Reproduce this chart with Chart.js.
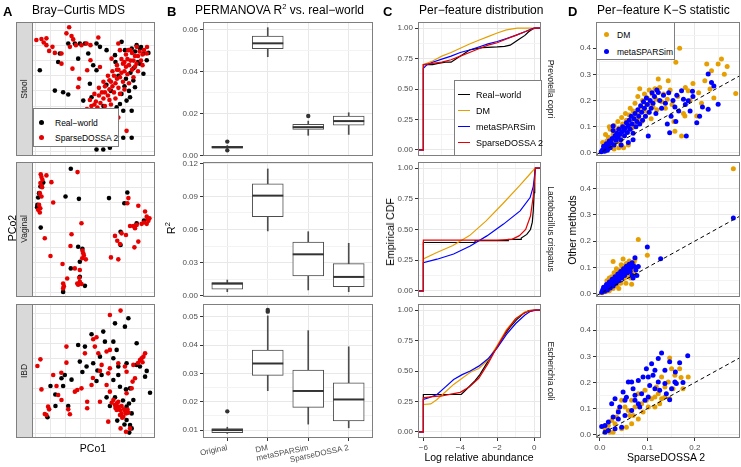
<!DOCTYPE html>
<html>
<head>
<meta charset="utf-8">
<script src="https://cdn.jsdelivr.net/npm/chart.js@4.4.0/dist/chart.umd.min.js"></script>
<style>
body { margin: 0; width: 741px; height: 467px; background: #fff; position: relative; overflow: hidden;
  font-family: "Liberation Sans", Arial, Helvetica, sans-serif; color: #000; }
#plots canvas { position: absolute; }
.t { position: absolute; white-space: nowrap; z-index: 5; }
.tag { font-weight: bold; font-size: 13px; line-height: 15px; }
.title { font-size: 12px; line-height: 15px; }
.axt { font-size: 10.5px; line-height: 12px; transform: translate(-50%, -50%); }
.rot { transform: translate(-50%, -50%) rotate(-90deg); }
.rot90 { transform: translate(-50%, -50%) rotate(90deg); }
.strip { position: absolute; background: #d9d9d9; border: 1px solid #7f7f7f; box-sizing: border-box; z-index: 4; }
.stxt { font-size: 8.5px; color: #1a1a1a; line-height: 10px; }
.legend { position: absolute; background: #fff; border: 1px solid #7f7f7f; box-sizing: border-box; z-index: 6; }
.key { position: absolute; white-space: nowrap; font-size: 8.5px; line-height: 10px; }
.dot { position: absolute; width: 5px; height: 5px; border-radius: 50%; }
.seg { position: absolute; height: 1.3px; width: 12px; }
sup { font-size: 7.5px; line-height: 0; vertical-align: 5px; }
</style>
</head>
<body>
<div id="plots"></div>

<div class="t tag" style="left:3px;top:4px">A</div>
<div class="t title" style="left:32px;top:3px">Bray−Curtis MDS</div>
<div class="t tag" style="left:167px;top:4px">B</div>
<div class="t title" style="left:195px;top:3px">PERMANOVA R<sup>2</sup> vs. real−world</div>
<div class="t tag" style="left:383px;top:4px">C</div>
<div class="t title" style="left:419px;top:3px">Per−feature distribution</div>
<div class="t tag" style="left:568px;top:4px">D</div>
<div class="t title" style="left:597px;top:3px">Per−feature K−S statistic</div>

<div class="t axt rot" style="left:12px;top:228px">PCo2</div>
<div class="t axt" style="left:93px;top:448px">PCo1</div>
<div class="t axt rot" style="left:171px;top:228px">R<sup>2</sup></div>
<div class="t axt rot" style="left:390px;top:232px">Empirical CDF</div>
<div class="t axt" style="left:479px;top:457px">Log relative abundance</div>
<div class="t axt rot" style="left:572px;top:230px">Other methods</div>
<div class="t axt" style="left:666px;top:457px">SparseDOSSA 2</div>

<div class="strip" style="left:16px;top:22px;width:17px;height:134px"></div>
<div class="strip" style="left:16px;top:162px;width:17px;height:135px"></div>
<div class="strip" style="left:16px;top:304px;width:17px;height:134px"></div>
<div class="t stxt rot" style="left:24px;top:89px">Stool</div>
<div class="t stxt rot" style="left:24px;top:229px">Vaginal</div>
<div class="t stxt rot" style="left:24px;top:371px">IBD</div>

<div class="t stxt rot90" style="left:551px;top:89px">Prevotella copri</div>
<div class="t stxt rot90" style="left:551px;top:229px">Lactobacillus crispatus</div>
<div class="t stxt rot90" style="left:551px;top:371px">Escherichia coli</div>

<div class="legend" style="left:33px;top:108px;width:86px;height:39px">
  <div class="dot" style="left:5px;top:11px;background:#000"></div>
  <div class="key" style="left:21px;top:9px">Real−world</div>
  <div class="dot" style="left:5px;top:26px;background:#e60000"></div>
  <div class="key" style="left:21px;top:24px">SparseDOSSA 2</div>
</div>

<div class="legend" style="left:454px;top:80px;width:88px;height:76px">
  <div class="seg" style="left:3px;top:13px;background:#000"></div>
  <div class="key" style="left:21px;top:9px;font-size:9px">Real−world</div>
  <div class="seg" style="left:3px;top:29px;background:#e69f00"></div>
  <div class="key" style="left:21px;top:25px;font-size:9px">DM</div>
  <div class="seg" style="left:3px;top:45px;background:#0000ff"></div>
  <div class="key" style="left:21px;top:41px;font-size:9px">metaSPARSim</div>
  <div class="seg" style="left:3px;top:61px;background:#e60000"></div>
  <div class="key" style="left:21px;top:57px;font-size:9px">SparseDOSSA 2</div>
</div>

<div class="legend" style="left:596px;top:22px;width:79px;height:38px">
  <div class="dot" style="left:7px;top:9px;background:#e69f00"></div>
  <div class="key" style="left:20px;top:7px">DM</div>
  <div class="dot" style="left:7px;top:26px;background:#0000ff"></div>
  <div class="key" style="left:20px;top:24px">metaSPARSim</div>
</div>

<script>
// ---- A: Bray-Curtis MDS coordinates (PCo1, PCo2) ----
var stoolReal = [[0.27,5.36],[1.27,4.02],[1.82,3.91],[2.16,3.76],[2.6,7.13],[2.93,7.13],[3.27,7.13],[2.16,7.13],[1.6,6.47],[1.49,5.91],[2.82,6.13],[3.49,6.47],[3.82,5.69],[4.04,5.36],[4.04,7.13],[4.27,6.91],[4.71,6.69],[5.27,6.36],[5.71,7.24],[5.93,6.69],[6.38,6.8],[6.71,7.02],[6.93,6.8],[7.16,6.47],[7.49,6.51],[7.38,6.02],[6.93,5.8],[7.16,5.13],[6.49,4.69],[6.6,4.24],[6.27,3.58],[6.04,3.36],[5.6,3.13],[5.38,2.91],[5.82,2.69],[6.38,2.69],[4.93,2.69],[5.16,2.02],[4.6,1.58],[5.27,1.36],[5.38,0.91],[5.82,0.91],[6.38,0.91],[4.93,0.69],[4.27,0.69],[4.04,0.13],[4.93,0.24],[4.49,0.13],[3.6,4.47],[3.16,3.36],[3.71,3.58],[3.38,2.69],[5.0,4.0],[5.5,5.0],[6.0,4.8],[6.3,5.2],[4.5,3.0],[6.5,5.5],[6.8,5.9],[4.7,4.4],[5.9,4.3],[6.2,4.0],[4.2,2.0],[5.7,3.8],[7.0,6.9],[6.6,6.6],[5.3,5.9]]
var stoolSim = [[0.04,7.36],[0.38,7.42],[0.53,7.2],[0.71,7.02],[0.89,6.64],[1.11,6.91],[1.27,6.51],[0.71,7.47],[2.22,8.2],[2.04,7.8],[2.38,7.62],[2.49,7.4],[2.27,6.91],[2.67,7.02],[3.04,7.02],[3.38,7.13],[3.64,7.02],[4.16,7.53],[1.71,6.47],[3.64,6.02],[4.27,5.58],[3.42,5.36],[2.44,5.47],[1.71,5.8],[2.89,4.8],[2.82,4.24],[5.49,7.13],[5.04,6.13],[5.6,6.69],[6.16,6.69],[6.71,6.91],[7.38,6.47],
  [3.6,2.4],[3.9,2.6],[3.7,3.0],[4.1,2.9],[4.0,3.3],[4.3,3.2],[4.5,3.5],[4.2,3.7],[4.6,3.9],[4.8,3.7],[4.9,4.1],[4.6,4.3],[5.1,4.3],[5.0,4.6],[5.3,4.5],[5.4,4.8],[5.2,5.0],[5.6,4.9],[5.7,5.2],[5.5,5.4],[5.9,5.3],[6.0,5.6],[5.8,5.8],[6.2,5.7],[6.3,6.0],[6.1,6.1],[6.5,6.0],[6.6,6.3],[6.4,6.5],[6.8,6.3],[6.9,6.6],[7.1,6.4],[7.0,6.0],[6.7,5.8],[6.4,5.4],[6.1,5.1],[5.8,4.6],[5.5,4.2],[5.2,3.9],[4.9,3.4],[4.6,3.0],[4.3,2.6],[4.0,2.2],[3.8,1.9],[3.5,2.0],[3.3,2.3],[3.4,2.8],[3.6,3.4],[3.9,3.8],[4.2,4.2],[4.5,4.6],[4.8,5.0],[5.1,5.3],[5.4,5.7],[5.7,6.1],[6.0,6.4],[6.3,6.7],[4.4,1.8],[4.1,1.5],[3.0,1.0],[5.16,1.24],[5.49,2.24],[4.71,1.13],[6.04,1.36],[4.27,1.91],
  [4.4,2.3],[4.7,2.7],[5.0,3.1],[5.3,3.5],[5.6,3.8],[5.9,4.1],[6.2,4.5],[6.5,4.9],[6.8,5.3],[7.1,5.7],[3.9,3.1],[4.4,3.9],[4.9,4.7],[5.4,5.4],[5.9,5.9],[6.6,5.6],[7.2,6.7],[7.4,6.9]]
var vagReal = [[2.33,8.22],[0.31,7.04],[0.22,6.6],[0.16,6.31],[0.11,5.82],[0.09,5.67],[0.33,4.31],[1.98,6.38],[2.87,6.22],[4.87,6.27],[6.09,6.64],[5.89,5.93],[6.71,4.6],[7.2,4.78],[5.64,4.04],[5.64,3.16],[2.82,3.04],[2.93,2.04],[2.33,1.6],[2.93,1.04],[3.27,0.44],[1.82,0.04],[0.5,7.3],[3.1,2.9]]
var vagSim = [[0.38,7.67],[0.44,7.49],[0.31,7.27],[0.38,7.09],[0.71,7.78],[1.04,7.33],[0.27,6.6],[0.38,6.38],[1.16,5.98],[0.22,5.82],[0.16,5.49],[0.27,5.31],[2.78,8.0],[0.6,3.6],[0.98,2.42],[1.78,1.89],[2.09,0.93],[1.82,0.6],[1.87,0.42],[1.82,0.27],[2.31,3.09],[2.38,3.87],[3.04,4.6],[3.11,2.78],[3.16,2.6],[3.33,2.2],[2.6,1.6],[2.76,0.6],[2.93,0.71],[3.04,0.56],[2.89,0.98],[2.82,0.51],[6.16,6.27],[6.09,5.93],[6.82,5.76],[7.27,5.38],[7.38,5.04],[7.56,4.93],[7.49,4.76],[7.38,4.56],[7.04,4.56],[6.71,4.49],[6.49,4.42],[6.27,4.42],[6.6,4.27],[6.0,3.82],[5.27,3.76],[5.42,3.44],[5.6,3.22],[5.71,3.93],[6.82,3.38],[6.56,3.0],[5.0,2.33],[5.49,2.2],[3.09,2.27],[2.93,1.49],[0.33,7.85],[0.42,7.0],[7.45,4.85],[7.2,4.65],[0.3,5.6],[3.2,2.45]]
var ibdReal = [[5.27,7.34],[6.16,7.68],[5.93,7.12],[4.49,6.79],[3.71,6.61],[5.16,6.12],[4.6,6.12],[2.82,5.9],[3.27,5.79],[6.71,6.01],[5.38,5.57],[2.93,4.79],[3.38,4.46],[3.82,4.68],[4.27,5.12],[5.16,5.01],[5.49,4.46],[6.04,4.68],[6.71,4.57],[7.38,4.17],[7.27,3.79],[6.93,4.46],[1.93,3.9],[2.38,3.59],[1.71,3.68],[0.98,3.17],[1.82,3.17],[4.04,3.5],[5.16,3.57],[5.49,3.9],[5.6,3.12],[6.0,2.94],[6.27,3.01],[7.6,2.72],[1.31,1.83],[2.16,1.83],[4.38,3.9],[4.71,2.41],[5.27,2.41],[4.93,1.83],[6.04,1.79],[6.38,1.34],[6.04,0.9],[5.42,0.86],[6.27,0.57],[6.38,0.34],[6.22,0.06],[0.78,1.08],[6.49,2.23],[5.8,2.2],[6.2,2.0],[5.9,0.6],[4.1,4.2],[3.1,4.1],[1.3,2.6]]
var ibdSim = [[4.93,7.9],[5.64,8.19],[2.04,5.79],[0.31,4.94],[0.11,4.5],[2.04,4.72],[1.16,3.9],[0.38,2.94],[1.38,3.17],[1.49,2.57],[1.71,2.23],[0.82,1.79],[0.89,1.61],[0.71,1.23],[0.6,1.3],[2.16,1.61],[2.27,1.28],[3.42,2.12],[3.42,1.68],[2.76,2.9],[3.04,3.01],[2.6,2.79],[3.71,3.23],[3.27,5.34],[3.82,6.28],[4.04,6.41],[3.93,5.79],[4.16,5.34],[4.27,4.17],[4.82,4.01],[4.93,4.34],[4.38,4.57],[4.71,5.46],[4.93,5.57],[5.49,4.68],[5.93,4.46],[6.04,4.12],[6.49,4.57],[6.93,4.9],[7.04,5.01],[7.27,5.34],[7.16,5.12],[6.44,3.46],[6.6,3.68],[6.38,3.01],[6.04,2.68],[4.71,3.23],[4.93,2.79],[5.16,2.23],[5.38,2.01],[5.49,1.79],[5.6,1.57],[5.71,1.34],[5.82,1.12],[5.27,1.9],[5.49,2.12],[5.71,1.83],[5.87,1.61],[6.0,1.34],[6.16,1.39],[5.6,1.23],[5.38,1.57],[4.82,0.79],[5.64,0.34],[6.0,0.12],[6.27,0.34],[4.27,2.12],[5.05,2.05],[5.95,1.5],[5.3,1.7],[5.75,1.05],[6.1,1.6],[7.1,4.75],[6.8,4.7],[1.7,4.05],[3.8,3.7]]

// ---- B: PERMANOVA R2 boxplots ----
var methods = ['Original', 'DM', 'metaSPARSim', 'SparseDOSSA 2']
var stoolLow = [0.0031, 0.0472, 0.0096, 0.0100]
var stoolQ1 = [0.0035, 0.0511, 0.0124, 0.0145]
var stoolMed = [0.0039, 0.0536, 0.0135, 0.0164]
var stoolQ3 = [0.0043, 0.0571, 0.0148, 0.0188]
var stoolHigh = [0.0047, 0.0611, 0.0164, 0.0204]
var stoolOut = [[1, 0.0066], [1, 0.0024], [3, 0.0188]]
var vagLow = [0.0036, 0.0587, 0.0052, 0.0036]
var vagQ1 = [0.0058, 0.0716, 0.0179, 0.0082]
var vagMed = [0.0109, 0.0907, 0.0375, 0.0170]
var vagQ3 = [0.0118, 0.1013, 0.0487, 0.0290]
var vagHigh = [0.0142, 0.1149, 0.0580, 0.0475]
var vagOut = []
var ibdLow = [0.0088, 0.0239, 0.0121, 0.0108]
var ibdQ1 = [0.0091, 0.0293, 0.0180, 0.0132]
var ibdMed = [0.0100, 0.0335, 0.0238, 0.0208]
var ibdQ3 = [0.0105, 0.0382, 0.0312, 0.0267]
var ibdHigh = [0.0110, 0.0503, 0.0451, 0.0394]
var ibdOut = [[1, 0.0166], [2, 0.0524], [2, 0.0518]]

// ---- C: empirical CDF of log relative abundance ----
var copriReal = [[-6.29,0],[-6,0],[-6,0.70],[-5.5,0.70],[-5.2,0.71],[-4.8,0.72],[-4.5,0.72],[-4.3,0.74],[-4.1,0.76],[-3.9,0.78],[-3.7,0.80],[-3.5,0.82],[-3.2,0.83],[-2.8,0.84],[-2.0,0.845],[-1.6,0.85],[-1.3,0.86],[-1.1,0.88],[-0.8,0.91],[-0.5,0.94],[-0.3,0.97],[-0.1,0.99],[0,1],[0.37,1]]
var copriDM = [[-6.29,0],[-6,0],[-6,0.70],[-5.5,0.73],[-5,0.77],[-4.5,0.80],[-4,0.835],[-3.5,0.87],[-3,0.90],[-2.5,0.93],[-2,0.96],[-1.5,0.985],[-1,0.998],[-0.9,1],[0.37,1]]
var copriMeta = [[-6.29,0],[-6,0],[-6,0.67],[-5.8,0.70],[-5.5,0.72],[-5,0.745],[-4.5,0.77],[-4,0.80],[-3.5,0.82],[-3,0.845],[-2.5,0.87],[-2,0.89],[-1.5,0.915],[-1,0.94],[-0.5,0.97],[-0.2,0.99],[0,1],[0.37,1]]
var copriSim = [[-6.29,0],[-6,0],[-6,0.70],[-5.5,0.71],[-5,0.72],[-4.5,0.74],[-4,0.77],[-3.5,0.80],[-3,0.83],[-2.5,0.86],[-2,0.88],[-1.5,0.91],[-1,0.94],[-0.5,0.97],[-0.1,0.99],[0.05,1],[0.37,1]]
var crispReal = [[-6.29,0],[-6,0],[-6,0.394],[-3.2,0.394],[-3.2,0.41],[-1.4,0.41],[-1.4,0.42],[-0.7,0.42],[-0.7,0.43],[-0.4,0.46],[-0.2,0.50],[-0.1,0.56],[-0.05,0.65],[0,0.80],[0.03,0.95],[0.06,1],[0.37,1]]
var crispDM = [[-6.29,0],[-6,0],[-6,0.26],[-5.3,0.31],[-4.4,0.37],[-3.5,0.45],[-2.6,0.57],[-1.7,0.71],[-0.8,0.855],[-0.3,0.94],[0.05,1],[0.37,1]]
var crispMeta = [[-6.29,0],[-6,0],[-6,0.23],[-5.26,0.258],[-4.36,0.30],[-3.46,0.366],[-2.56,0.448],[-1.66,0.544],[-0.76,0.652],[-0.22,0.76],[-0.05,0.85],[0.03,0.95],[0.07,1],[0.37,1]]
var crispSim = [[-6.29,0],[-6,0],[-6,0.413],[-2.0,0.413],[-1.2,0.42],[-0.8,0.45],[-0.46,0.50],[-0.2,0.61],[-0.05,0.77],[0.03,0.92],[0.07,1],[0.37,1]]
var coliReal = [[-6.29,0],[-6,0],[-6,0.307],[-3.95,0.307],[-3.8,0.33],[-3.5,0.375],[-3.2,0.42],[-2.94,0.47],[-2.7,0.53],[-2.4,0.606],[-2.0,0.70],[-1.68,0.78],[-1.3,0.86],[-0.96,0.92],[-0.6,0.97],[-0.3,0.995],[0,1],[0.37,1]]
var coliDM = [[-6.29,0],[-6,0],[-6,0.225],[-5.6,0.23],[-5.26,0.266],[-4.8,0.33],[-4.36,0.39],[-3.9,0.44],[-3.46,0.49],[-3.0,0.52],[-2.5,0.59],[-2,0.71],[-1.5,0.84],[-1,0.93],[-0.5,0.985],[0,1],[0.37,1]]
var coliMeta = [[-6.29,0],[-6,0],[-6,0.266],[-5.7,0.28],[-5.26,0.307],[-4.8,0.37],[-4.36,0.43],[-3.9,0.47],[-3.46,0.50],[-3,0.54],[-2.5,0.60],[-2,0.69],[-1.5,0.80],[-1,0.89],[-0.5,0.96],[-0.2,0.99],[0.1,1],[0.37,1]]
var coliSim = [[-6.29,0],[-6,0],[-6,0.28],[-5.5,0.29],[-5,0.295],[-4.5,0.31],[-4,0.325],[-3.5,0.37],[-3,0.44],[-2.5,0.56],[-2,0.70],[-1.5,0.83],[-1,0.93],[-0.5,0.98],[0,1],[0.37,1]]

// ---- D: per-feature K-S statistic (SparseDOSSA 2 vs other method) ----
var dmStool = [[0.004,0.006],[0.008,0.015],[0.010,0.030],[0.012,0.009],[0.015,0.045],[0.016,0.022],[0.018,0.060],[0.020,0.035],[0.022,0.090],[0.024,0.050],[0.026,0.028],[0.028,0.070],[0.030,0.105],[0.032,0.045],[0.034,0.085],[0.036,0.060],[0.038,0.120],[0.040,0.095],[0.042,0.040],[0.044,0.075],[0.046,0.135],[0.048,0.110],[0.050,0.065],[0.052,0.090],[0.054,0.150],[0.056,0.125],[0.058,0.080],[0.060,0.105],[0.062,0.145],[0.064,0.170],[0.066,0.115],[0.068,0.095],[0.070,0.160],[0.072,0.135],[0.074,0.190],[0.076,0.110],[0.078,0.150],[0.080,0.215],[0.082,0.130],[0.084,0.245],[0.086,0.175],[0.088,0.120],[0.090,0.200],[0.092,0.160],[0.094,0.225],[0.096,0.140],[0.098,0.185],[0.100,0.210],[0.102,0.155],[0.104,0.240],[0.106,0.190],[0.108,0.130],[0.110,0.225],[0.112,0.175],[0.116,0.245],[0.118,0.205],[0.120,0.165],[0.123,0.282],[0.126,0.250],[0.130,0.195],[0.134,0.225],[0.138,0.170],[0.142,0.205],[0.144,0.276],[0.148,0.240],[0.152,0.185],[0.156,0.120],[0.158,0.083],[0.160,0.346],[0.164,0.215],[0.168,0.400],[0.172,0.064],[0.176,0.150],[0.180,0.250],[0.186,0.237],[0.190,0.200],[0.196,0.265],[0.204,0.141],[0.208,0.230],[0.214,0.190],[0.221,0.276],[0.225,0.340],[0.232,0.244],[0.235,0.314],[0.240,0.210],[0.249,0.340],[0.256,0.359],[0.262,0.300],[0.268,0.330],[0.286,0.227],[0.179,0.141],[0.020,0.100],[0.012,0.070],[0.006,0.040],[0.030,0.015],[0.040,0.020],[0.060,0.030],[0.050,0.020]]
var metaStool = [[0.003,0.004],[0.006,0.012],[0.008,0.025],[0.010,0.006],[0.012,0.018],[0.014,0.035],[0.016,0.010],[0.018,0.028],[0.020,0.045],[0.022,0.020],[0.024,0.038],[0.026,0.055],[0.028,0.085],[0.028,0.103],[0.030,0.030],[0.032,0.065],[0.034,0.048],[0.036,0.075],[0.038,0.060],[0.040,0.090],[0.042,0.070],[0.044,0.050],[0.046,0.080],[0.048,0.100],[0.050,0.085],[0.052,0.065],[0.054,0.095],[0.056,0.115],[0.058,0.078],[0.060,0.105],[0.062,0.125],[0.064,0.090],[0.066,0.140],[0.068,0.110],[0.070,0.075],[0.072,0.130],[0.074,0.150],[0.076,0.100],[0.078,0.120],[0.080,0.165],[0.082,0.140],[0.084,0.110],[0.086,0.180],[0.088,0.155],[0.090,0.125],[0.092,0.195],[0.094,0.170],[0.096,0.140],[0.098,0.210],[0.100,0.185],[0.102,0.064],[0.104,0.155],[0.106,0.200],[0.108,0.170],[0.110,0.230],[0.112,0.190],[0.115,0.215],[0.118,0.150],[0.120,0.240],[0.123,0.231],[0.126,0.200],[0.130,0.170],[0.134,0.220],[0.138,0.190],[0.142,0.110],[0.147,0.077],[0.150,0.140],[0.154,0.200],[0.158,0.175],[0.162,0.220],[0.166,0.160],[0.172,0.237],[0.176,0.205],[0.180,0.185],[0.182,0.064],[0.186,0.199],[0.190,0.160],[0.196,0.215],[0.204,0.115],[0.210,0.140],[0.216,0.175],[0.228,0.167],[0.228,0.301],[0.235,0.269],[0.240,0.255],[0.249,0.186],[0.195,0.235],[0.145,0.230],[0.160,0.120],[0.060,0.040],[0.045,0.030],[0.070,0.050]]
var dmVag = [[0.005,0.004],[0.008,0.012],[0.010,0.022],[0.012,0.008],[0.014,0.030],[0.016,0.018],[0.018,0.040],[0.020,0.012],[0.022,0.028],[0.024,0.050],[0.026,0.036],[0.028,0.020],[0.028,0.123],[0.030,0.060],[0.032,0.045],[0.034,0.070],[0.036,0.030],[0.038,0.055],[0.040,0.085],[0.042,0.065],[0.044,0.040],[0.046,0.095],[0.048,0.075],[0.050,0.105],[0.049,0.132],[0.052,0.060],[0.054,0.088],[0.056,0.115],[0.058,0.070],[0.060,0.100],[0.062,0.125],[0.063,0.108],[0.064,0.080],[0.067,0.036],[0.068,0.110],[0.070,0.092],[0.072,0.120],[0.074,0.130],[0.076,0.100],[0.081,0.206],[0.100,0.146],[0.025,0.065],[0.015,0.050],[0.045,0.110],[0.035,0.095],[0.055,0.040],[0.040,0.020],[0.065,0.060],[0.073,0.075],[0.030,0.080],[0.020,0.060],[0.281,0.474]]
var metaVag = [[0.004,0.006],[0.006,0.015],[0.008,0.025],[0.010,0.010],[0.012,0.020],[0.014,0.035],[0.016,0.015],[0.018,0.028],[0.020,0.045],[0.022,0.022],[0.024,0.038],[0.026,0.055],[0.028,0.030],[0.030,0.048],[0.032,0.065],[0.034,0.040],[0.036,0.058],[0.038,0.075],[0.040,0.050],[0.042,0.068],[0.044,0.085],[0.046,0.060],[0.048,0.078],[0.050,0.095],[0.052,0.070],[0.054,0.088],[0.056,0.105],[0.058,0.080],[0.060,0.098],[0.062,0.112],[0.064,0.085],[0.066,0.100],[0.068,0.118],[0.068,0.070],[0.070,0.060],[0.072,0.105],[0.074,0.137],[0.076,0.090],[0.078,0.070],[0.081,0.104],[0.100,0.178],[0.128,0.133],[0.281,0.288]]
var dmIbd = [[0.147,0.294],[0.186,0.221],[0.171,0.219],[0.175,0.176],[0.144,0.202],[0.151,0.253],[0.130,0.221],[0.119,0.183],[0.116,0.145],[0.109,0.138],[0.137,0.145],[0.147,0.138],[0.088,0.119],[0.074,0.106],[0.070,0.074],[0.060,0.093],[0.046,0.132],[0.039,0.093],[0.035,0.068],[0.025,0.055],[0.018,0.036],[0.021,0.010],[0.028,0.010],[0.046,0.023],[0.056,0.029],[0.067,0.042],[0.081,0.061],[0.091,0.087],[0.102,0.106],[0.116,0.106],[0.126,0.119],[0.130,0.138],[0.137,0.183],[0.154,0.176],[0.095,0.170],[0.081,0.157],[0.067,0.132],[0.053,0.106],[0.063,0.074],[0.098,0.132],[0.123,0.157],[0.158,0.228],[0.168,0.253],[0.032,0.042],[0.011,0.023]]
var metaIbd = [[0.130,0.313],[0.185,0.302],[0.147,0.279],[0.168,0.276],[0.159,0.240],[0.098,0.253],[0.116,0.247],[0.060,0.202],[0.067,0.202],[0.081,0.208],[0.102,0.221],[0.112,0.228],[0.137,0.247],[0.175,0.200],[0.147,0.134],[0.137,0.196],[0.126,0.170],[0.116,0.176],[0.088,0.157],[0.074,0.132],[0.053,0.132],[0.042,0.106],[0.039,0.087],[0.028,0.068],[0.018,0.049],[0.011,0.036],[0.004,0.032],[0.049,0.164],[0.056,0.144],[0.025,0.119],[0.032,0.138],[0.081,0.119],[0.095,0.132],[0.105,0.189],[0.123,0.202],[0.151,0.176],[0.158,0.202],[0.161,0.196],[0.109,0.272],[0.123,0.292],[0.091,0.221],[0.070,0.176],[0.018,0.017],[0.011,0.010],[0.032,0.023],[0.046,0.029],[0.067,0.093],[0.084,0.106],[0.039,0.061],[0.053,0.074],[0.074,0.151],[0.102,0.145],[0.140,0.157]]

var FONT = '"Liberation Sans", Arial, Helvetica, sans-serif'
var RED = '#e60000', ORANGE = '#e69f00', BLUE = '#0000ff'
var rows = [[22, 134], [162, 135], [304, 134]]
var M = 8

function xy(arr) { return arr.map(function (p) { return { x: p[0], y: p[1] } }) }
function fmt2(v) { return v.toFixed(2) }
function fmt1(v) { return v.toFixed(1) }
function fmtMinus(v) { return v < 0 ? '\u2212' + (-v) : String(v) }

// panel border like theme_bw
var frame = {
  id: 'frame',
  afterDraw: function (chart) {
    var a = chart.chartArea, ctx = chart.ctx
    ctx.save()
    ctx.strokeStyle = '#7f7f7f'
    ctx.lineWidth = 1
    ctx.strokeRect(a.left + 0.5, a.top + 0.5, a.right - a.left - 1, a.bottom - a.top - 1)
    ctx.restore()
  }
}

function linAxis(pos, min, max, major, minor, fmt, size, rot) {
  var all = major.concat(minor).sort(function (a, b) { return a - b })
  var isMajor = function (v) {
    for (var i = 0; i < major.length; i++) if (Math.abs(major[i] - v) < 1e-9) return true
    return false
  }
  var show = !!fmt
  return {
    type: 'linear', position: pos, min: min, max: max, offset: false,
    afterBuildTicks: function (s) { s.ticks = all.map(function (v) { return { value: v } }) },
    afterFit: function (s) {
      if (pos === 'bottom') s.height = size
      else s.width = size
      s.paddingLeft = 0; s.paddingRight = 0; s.paddingTop = 0; s.paddingBottom = 0
    },
    ticks: {
      display: show, autoSkip: false, minRotation: rot || 0, maxRotation: rot || 0,
      padding: 2, color: '#4d4d4d', font: { family: FONT, size: 8 },
      callback: function (v) { return show && isMajor(v) ? fmt(v) : '' }
    },
    grid: {
      offset: false,
      color: function (c) { return c.tick && !isMajor(c.tick.value) ? '#f3f3f3' : '#e8e8e8' },
      lineWidth: 1,
      drawTicks: show, tickLength: 3,
      tickColor: function (c) { return c.tick && isMajor(c.tick.value) ? '#333333' : 'rgba(0,0,0,0)' }
    },
    border: { display: false }
  }
}

function makeChart(L, T, W, H, axL, axB, cfg) {
  var c = document.createElement('canvas')
  c.width = W + axL + 2 * M
  c.height = H + axB + 2 * M
  c.style.left = (L - axL - M) + 'px'
  c.style.top = (T - M) + 'px'
  document.getElementById('plots').appendChild(c)
  cfg.options.responsive = false
  cfg.options.animation = false
  cfg.options.events = []
  cfg.options.layout = { padding: M, autoPadding: false }
  cfg.options.plugins = { legend: { display: false }, tooltip: { enabled: false } }
  cfg.plugins = [frame]
  return new Chart(c, cfg)
}

function pts(data, color, r) {
  return { data: xy(data), pointRadius: r, pointBackgroundColor: color, pointBorderWidth: 0, clip: 0 }
}

// A
var mdsGridX = [0, 1, 2, 3, 4, 5, 6, 7]
var mdsGridY = [0, 1, 2, 3, 4, 5, 6, 7, 8]
function mdsChart(i, real, sim, ymax) {
  var r = rows[i]
  makeChart(32, r[0], 123, r[1], 0, 0, {
    type: 'scatter',
    data: { datasets: [pts(sim, RED, 2.3), pts(real, '#000', 2.3)] },
    options: { scales: {
      x: linAxis('bottom', -0.25, 7.93, mdsGridX, [], null, 0),
      y: linAxis('left', -0.3, ymax, mdsGridY, [], null, 0)
    } }
  })
}
mdsChart(0, stoolReal, stoolSim, 8.55)
mdsChart(1, vagReal, vagSim, 8.67)
mdsChart(2, ibdReal, ibdSim, 8.63)

// B
function boxChart(i, low, q1, med, q3, high, out, min, max, major, minor, showX) {
  var r = rows[i]
  var cats = [1, 2, 3, 4]
  var x = linAxis('bottom', 0.4, 4.6, cats, [], showX ? function (v) { return methods[v - 1] } : null, showX ? 26 : 0, 12)
  makeChart(203, r[0], 170, r[1], 22, showX ? 26 : 0, {
    type: 'bar',
    data: { datasets: [
      { type: 'scatter', order: 0, data: out.map(function (o) { return { x: o[0], y: o[1] } }),
        pointRadius: 2.2, pointBackgroundColor: '#333', pointBorderWidth: 0 },
      { type: 'line', order: 1, showLine: false, data: cats.map(function (c, k) { return { x: c, y: med[k] } }),
        pointStyle: 'line', pointRadius: 15.5, pointBorderWidth: 2, pointBorderColor: '#333' },
      { type: 'bar', order: 2, grouped: false, barThickness: 31, data: cats.map(function (c, k) { return { x: c, y: [q1[k], q3[k]] } }),
        backgroundColor: '#fff', borderColor: '#4d4d4d', borderWidth: 1, borderSkipped: false },
      { type: 'bar', order: 3, grouped: false, barThickness: 1, data: cats.map(function (c, k) { return { x: c, y: [low[k], high[k]] } }),
        backgroundColor: '#4d4d4d', borderWidth: 0 }
    ] },
    options: { scales: {
      x: x,
      y: linAxis('left', min, max, major, minor, fmt2, 22)
    } }
  })
}
boxChart(0, stoolLow, stoolQ1, stoolMed, stoolQ3, stoolHigh, stoolOut, -0.0003, 0.0638, [0, 0.02, 0.04, 0.06], [0.01, 0.03, 0.05], false)
boxChart(1, vagLow, vagQ1, vagMed, vagQ3, vagHigh, vagOut, -0.0012, 0.1212, [0, 0.03, 0.06, 0.09, 0.12], [0.015, 0.045, 0.075, 0.105], false)
boxChart(2, ibdLow, ibdQ1, ibdMed, ibdQ3, ibdHigh, ibdOut, 0.0072, 0.0545, [0.01, 0.02, 0.03, 0.04, 0.05], [0.015, 0.025, 0.035, 0.045], true)

// C
function line(data, color) {
  return { data: xy(data), showLine: true, pointRadius: 0, borderColor: color, borderWidth: 1.2, clip: 0 }
}
function ecdfChart(i, real, dm, meta, sim, showX) {
  var r = rows[i]
  makeChart(418, r[0], 123, r[1], 22, showX ? 14 : 0, {
    type: 'scatter',
    data: { datasets: [line(sim, RED), line(meta, BLUE), line(dm, ORANGE), line(real, '#000')] },
    options: { scales: {
      x: linAxis('bottom', -6.29, 0.37, [-6, -4, -2, 0], [-5, -3, -1], showX ? fmtMinus : null, showX ? 14 : 0),
      y: linAxis('left', -0.05, 1.05, [0, 0.25, 0.5, 0.75, 1], [0.125, 0.375, 0.625, 0.875], fmt2, 22)
    } }
  })
}
ecdfChart(0, copriReal, copriDM, copriMeta, copriSim, false)
ecdfChart(1, crispReal, crispDM, crispMeta, crispSim, false)
ecdfChart(2, coliReal, coliDM, coliMeta, coliSim, true)

// D
function ksChart(i, dm, meta, showX) {
  var r = rows[i]
  makeChart(596, r[0], 144, r[1], 18, showX ? 14 : 0, {
    type: 'scatter',
    data: { datasets: [
      { data: [{ x: -0.02, y: -0.02 }, { x: 0.32, y: 0.32 }], showLine: true, pointRadius: 0,
        borderColor: '#000', borderWidth: 1, borderDash: [4, 3] },
      pts(meta, BLUE, 2.5),
      pts(dm, ORANGE, 2.5)
    ] },
    options: { scales: {
      x: linAxis('bottom', -0.008, 0.295, [0, 0.1, 0.2], [0.05, 0.15, 0.25], showX ? fmt1 : null, showX ? 14 : 0),
      y: linAxis('left', -0.012, 0.5, [0, 0.1, 0.2, 0.3, 0.4], [0.05, 0.15, 0.25, 0.35, 0.45], fmt1, 18)
    } }
  })
}
ksChart(0, dmStool, metaStool, false)
ksChart(1, dmVag, metaVag, false)
ksChart(2, dmIbd, metaIbd, true)
</script>
</body>
</html>
